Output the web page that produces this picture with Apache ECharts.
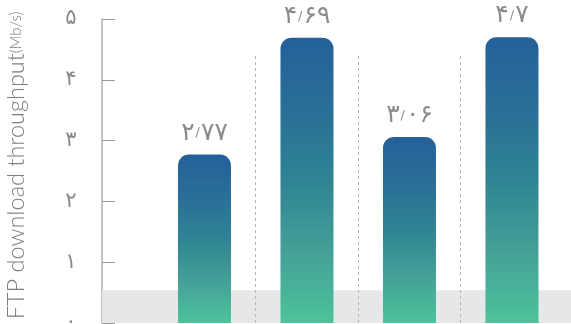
<!DOCTYPE html>
<html><head><meta charset="utf-8">
<script src="https://cdn.jsdelivr.net/npm/echarts@6/dist/echarts.min.js"></script>
<style>html,body{margin:0;padding:0;background:#fff}#c{width:571px;height:324px}</style>
</head><body><div id="c"></div>
<script>
const categories = ['A', 'B', 'C', 'D'];
const values = [2.77, 4.69, 3.06, 4.7];
const yTicks = [0, 1, 2, 3, 4, 5];
const bandTop = 0.54;
const sepTop = 4.43;

const faDigits = '۰۱۲۳۴۵۶۷۸۹';
function faNum(s) { return s.replace(/[0-9]/g, d => faDigits[+d]); }
function faRich(v) {
  const parts = String(v).split('.');
  let out = '{d|' + faNum(parts[0]) + '}';
  if (parts.length > 1) out += '{s|/}{d|' + faNum(parts[1]) + '}';
  return out;
}

const chart = echarts.init(document.getElementById('c'), null, {renderer: 'canvas'});
const grad = new echarts.graphic.LinearGradient(0, 0, 0, 1, [
  {offset: 0, color: '#25609a'},
  {offset: 0.3, color: '#2a7296'},
  {offset: 0.5, color: '#2f8493'},
  {offset: 0.75, color: '#44a097'},
  {offset: 1, color: '#4cc39a'}
]);

chart.setOption({
  animation: false,
  grid: {left: 102, right: 0, top: 19, bottom: 1, containLabel: false, outerBoundsMode: 'none'},
  xAxis: {
    type: 'value', min: 0, max: 4.576,
    show: false
  },
  yAxis: {
    type: 'value', min: yTicks[0], max: yTicks[yTicks.length - 1], interval: 1,
    axisLine: {show: true, lineStyle: {color: '#b0b0b0', width: 1.5}},
    axisTick: {show: true, inside: true, length: 13, lineStyle: {color: '#9a9a9a', width: 1}},
    splitLine: {show: false},
    axisLabel: {
      formatter: v => faNum(String(v)), margin: 31, align: 'center',
      color: '#8a8a8a', fontSize: 21, fontFamily: 'DejaVu Sans'
    },
    name: '{a|FTP download throughput}{b|(Mb/s)}',
    nameLocation: 'middle', nameGap: 74, nameRotate: 90,
    nameTextStyle: {
      padding: [0, 0, 0, 11],
      rich: {
        a: {fontSize: 23.5, color: '#7d7d7d', fontFamily: 'Lato', fontWeight: 300},
        b: {fontSize: 15, color: '#7d7d7d', fontFamily: 'Lato', fontWeight: 300}
      }
    }
  },
  series: [{
    type: 'bar',
    barWidth: 53,
    data: values.map((v, i) => [i + 1, v]),
    itemStyle: {color: grad, borderRadius: [11, 11, 0, 0]},
    label: {
      show: true, position: 'top', distance: 9,
      formatter: p => faRich(p.value[1]),
      rich: {
        d: {color: '#8c8c8c', fontSize: 25, fontFamily: 'DejaVu Sans'},
        s: {color: '#8c8c8c', fontSize: 13, fontFamily: 'DejaVu Sans', padding: [0, 1, 0, 1]}
      }
    },
    markArea: {
      silent: true,
      itemStyle: {color: '#e6e7e9'},
      data: [[{yAxis: 0}, {yAxis: bandTop}]]
    },
    markLine: {
      silent: true, symbol: 'none', label: {show: false},
      lineStyle: {color: '#b5b5b5', type: [3, 3], width: 1},
      data: categories.slice(1).map((c, i) => [
        {coord: [i + 1.5, 0]}, {coord: [i + 1.5, sepTop]}
      ])
    }
  }]
});
</script></body></html>
